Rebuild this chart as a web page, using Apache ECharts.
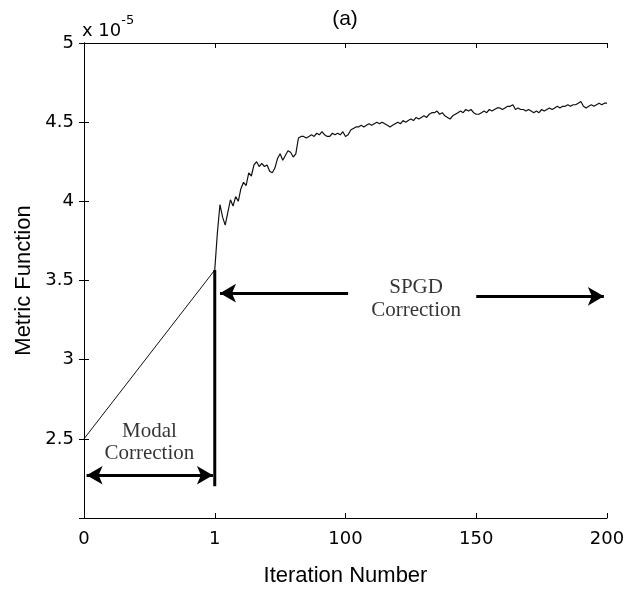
<!DOCTYPE html>
<html>
<head>
<meta charset="utf-8">
<script src="https://cdn.jsdelivr.net/npm/echarts@6/dist/echarts.min.js"></script>
<style>html,body{margin:0;padding:0;background:#fff;}#c{width:636px;height:589px;}</style>
</head>
<body>
<div id="c"></div>
<script>
// x-axis tick labels (axis positions 0,50,100,150,200)
var xTickLabels = {0:'0', 50:'1', 100:'100', 150:'150', 200:'200'};
// Modal correction segment (axis x, metric in 1e-5)
var modalX = [0, 50];
var modalY = [2.5, 3.566];
// SPGD correction (axis x from 50 to 200)
var spgdX = [50,51,52,53,54,55,56,57,58,59,60,61,62,63,64,65,66,67,68,69,70,71,72,73,74,75,76,77,78,79,80,81,82,83,84,85,86,87,88,89,90,91,92,93,94,95,96,97,98,99,100,101,102,103,104,105,106,107,108,109,110,111,112,113,114,115,116,117,118,119,120,121,122,123,124,125,126,127,128,129,130,131,132,133,134,135,136,137,138,139,140,141,142,143,144,145,146,147,148,149,150,151,152,153,154,155,156,157,158,159,160,161,162,163,164,165,166,167,168,169,170,171,172,173,174,175,176,177,178,179,180,181,182,183,184,185,186,187,188,189,190,191,192,193,194,195,196,197,198,199,200];
var spgdY = [3.566,3.80,3.98,3.90,3.85,3.93,4.01,3.97,4.03,4.00,4.08,4.12,4.10,4.18,4.16,4.23,4.25,4.22,4.24,4.22,4.23,4.19,4.18,4.21,4.27,4.30,4.26,4.29,4.32,4.31,4.28,4.30,4.40,4.41,4.41,4.40,4.41,4.42,4.41,4.43,4.42,4.44,4.42,4.41,4.41,4.43,4.42,4.43,4.42,4.44,4.41,4.42,4.45,4.46,4.47,4.47,4.48,4.47,4.48,4.49,4.48,4.49,4.50,4.49,4.50,4.49,4.48,4.47,4.48,4.49,4.50,4.49,4.51,4.50,4.51,4.52,4.51,4.53,4.52,4.53,4.54,4.53,4.55,4.56,4.56,4.57,4.55,4.56,4.54,4.53,4.52,4.54,4.55,4.56,4.57,4.56,4.58,4.57,4.58,4.56,4.55,4.55,4.56,4.57,4.56,4.58,4.57,4.58,4.59,4.59,4.58,4.59,4.60,4.60,4.61,4.58,4.59,4.58,4.58,4.57,4.58,4.57,4.56,4.57,4.56,4.58,4.57,4.58,4.59,4.58,4.59,4.60,4.59,4.60,4.60,4.61,4.60,4.61,4.61,4.62,4.63,4.60,4.59,4.60,4.61,4.60,4.61,4.62,4.61,4.62,4.62];
// Annotations (data coordinates)
var dividerLine = [[50, 3.566], [50, 2.20]];
var modalArrow = [[1, 2.27], [49.3, 2.27]];
var spgdArrowLeft = [[101, 3.42], [52, 3.42]];
var spgdArrowRight = [[150, 3.40], [198.8, 3.40]];
var annotTexts = [
  {x: 25, y: 2.545, text: 'Modal'},
  {x: 25, y: 2.405, text: 'Correction'},
  {x: 127, y: 3.455, text: 'SPGD'},
  {x: 127, y: 3.31, text: 'Correction'}
];

var modalData = modalX.map(function(x,i){return [x, modalY[i]];});
var spgdData = spgdX.map(function(x,i){return [x, spgdY[i]];});

var chart = echarts.init(document.getElementById('c'));
var sans = 'DejaVu Sans, sans-serif';
var arial = 'Arial, Liberation Sans, sans-serif';
var tickFont = {fontFamily: sans, fontSize: 18, color: '#000'};
var nameFont = {fontFamily: arial, fontSize: 22, color: '#000'};
var serif = 'Times New Roman, Liberation Serif, serif';

function arrowML(pts, both) {
  return {
    silent: true,
    animation: false,
    symbol: both ? ['arrow','arrow'] : ['none','arrow'],
    symbolSize: [14, 16],
    lineStyle: {color: '#000', width: 3, type: 'solid'},
    label: {show: false},
    data: [[{coord: pts[0]}, {coord: pts[1]}]]
  };
}

chart.setOption({
  animation: false,
  backgroundColor: '#fff',
  grid: {left: 84, right: 29, top: 43, bottom: 71, containLabel: false, outerBoundsMode: 'none'},
  graphic: [{
    type: 'text', left: 82, top: 14,
    style: {
      text: '{a|x 10}{b|-5}',
      rich: {
        a: {fontFamily: sans, fontSize: 18, fill: '#000', padding: [8,0,0,0]},
        b: {fontFamily: sans, fontSize: 13, fill: '#000', verticalAlign: 'top', padding: [0,0,10,0]}
      }
    }
  }, {
    type: 'text', x: 345, y: 9,
    style: {text: '(a)', fontFamily: arial, fontSize: 21, fill: '#000', textAlign: 'center'}
  }],
  xAxis: [{
    type: 'value', min: 0, max: 200, interval: 50,
    name: 'Iteration Number', nameLocation: 'middle', nameGap: 47,
    nameTextStyle: nameFont,
    axisLine: {lineStyle: {color: '#000', width: 1}},
    axisTick: {inside: true, length: 5, lineStyle: {color: '#000'}},
    axisLabel: Object.assign({margin: 12, formatter: function(v){return xTickLabels[v] !== undefined ? xTickLabels[v] : '';}}, tickFont),
    splitLine: {show: false}
  }, {
    type: 'value', min: 0, max: 200, interval: 50, position: 'top',
    axisLine: {show: true, lineStyle: {color: '#000', width: 1}},
    axisTick: {inside: true, length: 5, lineStyle: {color: '#000'}},
    axisLabel: {show: false}, splitLine: {show: false}
  }],
  yAxis: [{
    type: 'value', min: 2, max: 5, interval: 0.5,
    name: 'Metric Function', nameLocation: 'middle', nameGap: 42,
    nameTextStyle: nameFont,
    axisLine: {show: true, lineStyle: {color: '#000', width: 1}},
    axisTick: {inside: true, length: 5, lineStyle: {color: '#000'}},
    axisLabel: Object.assign({margin: 10, formatter: function(v){return v === 2 ? '' : String(v);}}, tickFont),
    splitLine: {show: false}
  }, {
    type: 'value', min: 2, max: 5, interval: 0.5, position: 'right',
    axisLine: {show: true, lineStyle: {color: '#000', width: 1}},
    axisTick: {inside: true, length: 5, lineStyle: {color: '#000'}},
    axisLabel: {show: false}, splitLine: {show: false}
  }],
  series: [{
    type: 'line', data: modalData, showSymbol: false, symbol: 'none',
    lineStyle: {color: '#111', width: 1}
  }, {
    type: 'line', data: spgdData, showSymbol: false, symbol: 'none',
    lineStyle: {color: '#111', width: 1.2}
  }, {
    type: 'line', data: dividerLine, showSymbol: false, symbol: 'none',
    lineStyle: {color: '#000', width: 3}, z: 3
  }, {
    type: 'line', data: [], markLine: arrowML(modalArrow, true)
  }, {
    type: 'line', data: [], markLine: arrowML(spgdArrowLeft, false)
  }, {
    type: 'line', data: [], markLine: arrowML(spgdArrowRight, false)
  }, {
    type: 'scatter', symbolSize: 0,
    data: annotTexts.map(function(a){return {value: [a.x, a.y], name: a.text};}),
    label: {show: true, position: 'inside', formatter: function(p){return p.name;},
      fontFamily: serif, fontSize: 21, color: '#000'}
  }]
});
</script>
</body>
</html>
